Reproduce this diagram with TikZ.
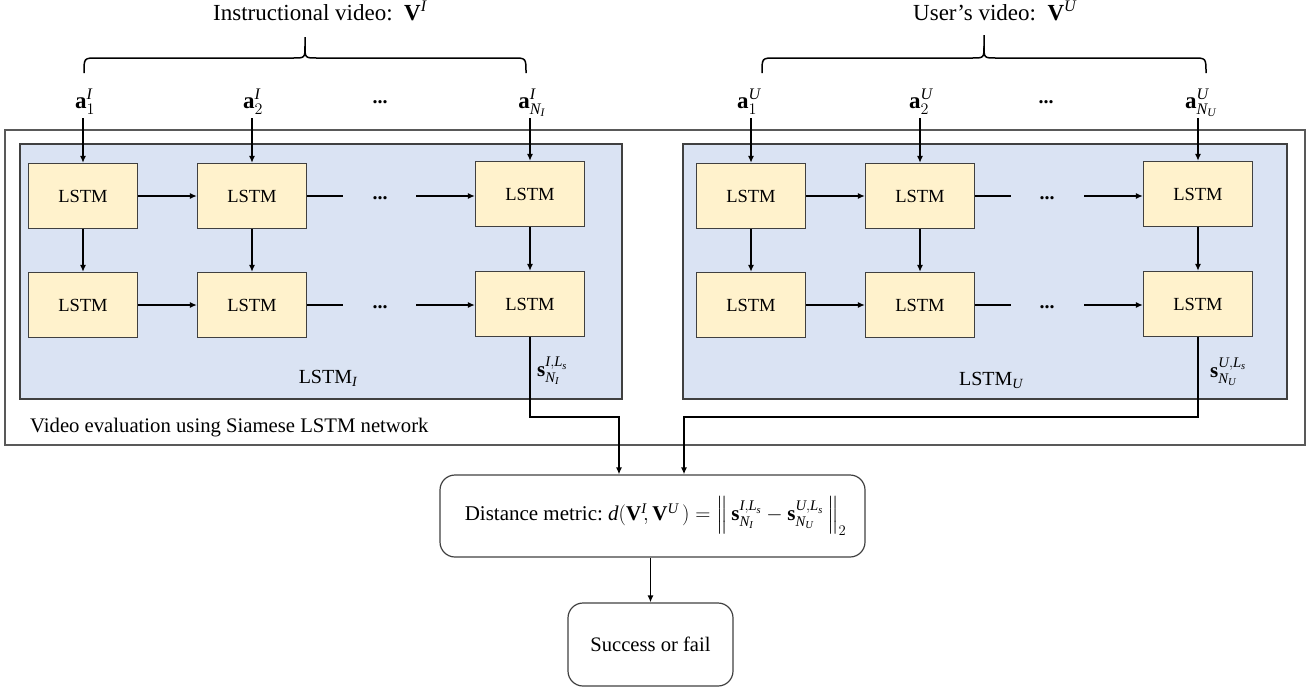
\RequirePackage{fix-cm}
\documentclass[tikz,border=0pt]{standalone}
\usepackage{amsmath}
\usepackage{fontspec}
\setmainfont{Liberation Serif}
\usetikzlibrary{arrows.meta,calc}
\definecolor{panelfill}{HTML}{DAE3F3}
\definecolor{lstmfill}{HTML}{FFF2CC}
\definecolor{edgegray}{HTML}{404040}
\definecolor{outergray}{HTML}{595959}
\newcommand\mi[1]{\mathit{#1}}
\newcommand\fsz[1]{\fontsize{#1}{#1}\selectfont}
\tikzset{
  lstm/.style={draw=edgegray, fill=lstmfill, line width=1.2pt, minimum width=109pt, minimum height=65pt, inner sep=0pt, font=\fsz{18.5}},
  panel/.style={draw=edgegray, fill=panelfill, line width=1.2pt},
  outerbox/.style={draw=outergray, line width=1.2pt},
  arr/.style={-{Latex[length=7pt,width=6pt]}, line width=1.4pt, black},
  plain/.style={line width=1.4pt, black},
  rbox/.style={draw=edgegray, line width=1.2pt, rounded corners=15pt, inner sep=0pt},
  alab/.style={anchor=base, inner sep=0pt, font=\fsz{23}},
  dots/.style={anchor=base, inner sep=0pt, font=\fsz{20}\bfseries},
  bracepath/.style={line width=1.5pt, black},
}
\begin{document}
\begin{tikzpicture}[x=1pt,y=-1pt]
\useasboundingbox (0,0) rectangle (1309,689);

% outer box and panels
\draw[outerbox] (5,130) rectangle (1305,445);
\draw[panel] (20,144) rectangle (622,399);
\draw[panel] (683,144) rectangle (1287,399);

% titles
\node[anchor=base west, inner sep=0pt, font=\fsz{23}] (tI) at (213,20) {Instructional video:\ \ $\mathbf{V}^{\mi{I}}$};
\node[anchor=base west, inner sep=0pt, font=\fsz{23}] (tU) at (913,20) {User's video:\ \ $\mathbf{V}^{\mi{U}}$};

% braces
\draw[bracepath] (84,73) .. controls (84,58) .. (97,58) -- (293,58) .. controls (305,58) .. (305,46) -- (305,37);
\draw[bracepath] (526,73) .. controls (526,58) .. (513,58) -- (317,58) .. controls (305,58) .. (305,46);
\draw[bracepath] (762,73) .. controls (762,58) .. (775,58) -- (972,58) .. controls (984,58) .. (984,46) -- (984,35);
\draw[bracepath] (1206,73) .. controls (1206,58) .. (1193,58) -- (996,58) .. controls (984,58) .. (984,46);

% input labels
\node[alab] (a1) at (85,108) {$\mathbf{a}_{1}^{\mi{I}}$};
\node[alab] (a2) at (253,108) {$\mathbf{a}_{2}^{\mi{I}}$};
\node[dots] (ad) at (380,103) {...};
\node[alab] (a3) at (532,108) {$\mathbf{a}^{\mi{I}}_{\mi{N}_{\mi{I}}}$};
\node[alab] (b1) at (749,108) {$\mathbf{a}_{1}^{\mi{U}}$};
\node[alab] (b2) at (921,108) {$\mathbf{a}_{2}^{\mi{U}}$};
\node[dots] (bd) at (1046,103) {...};
\node[alab] (b3) at (1201,108) {$\mathbf{a}^{\mi{U}}_{\mi{N}_{\mi{U}}}$};
\coordinate (inrow) at (0,118);

% LSTM boxes
\node[lstm] (L11) at (83,196) {LSTM};
\node[lstm] (L12) at (252,196) {LSTM};
\node[lstm] (L13) at (530,194) {LSTM};
\node[lstm] (L21) at (83,305) {LSTM};
\node[lstm] (L22) at (252,305) {LSTM};
\node[lstm] (L23) at (530,304) {LSTM};
\node[lstm] (R11) at (751,196) {LSTM};
\node[lstm] (R12) at (920,196) {LSTM};
\node[lstm] (R13) at (1198,194) {LSTM};
\node[lstm] (R21) at (751,305) {LSTM};
\node[lstm] (R22) at (920,305) {LSTM};
\node[lstm] (R23) at (1198,304) {LSTM};

% input arrows
\foreach \b in {L11,L12,L13,R11,R12,R13}{
  \draw[arr] (\b.north |- inrow) -- (\b.north);
}
% vertical arrows
\foreach \t/\b in {L11/L21,L12/L22,L13/L23,R11/R21,R12/R22,R13/R23}{
  \draw[arr] (\t) -- (\b);
}
% horizontal arrows
\draw[arr] (L11) -- (L12);
\draw[arr] (L21) -- (L22);
\draw[arr] (R11) -- (R12);
\draw[arr] (R21) -- (R22);

% dotted chains
\coordinate (eL1) at (343,196); \coordinate (sL1) at (416,196);
\coordinate (eL2) at (343,305); \coordinate (sL2) at (416,305);
\coordinate (eR1) at (1011,196); \coordinate (sR1) at (1084,196);
\coordinate (eR2) at (1011,305); \coordinate (sR2) at (1084,305);
\draw[plain] (L12.east) -- (eL1);
\draw[arr] (sL1) -- (sL1 -| L13.west);
\draw[plain] (L22.east) -- (eL2);
\draw[arr] (sL2) -- (sL2 -| L23.west);
\draw[plain] (R12.east) -- (eR1);
\draw[arr] (sR1) -- (sR1 -| R13.west);
\draw[plain] (R22.east) -- (eR2);
\draw[arr] (sR2) -- (sR2 -| R23.west);
\node[dots] (dL1) at (380,199) {...};
\node[dots] (dL2) at (380,308) {...};
\node[dots] (dR1) at (1047,199) {...};
\node[dots] (dR2) at (1047,308) {...};

% panel labels
\node[inner sep=0pt, font=\fsz{20}] (lI) at (328,378) {LSTM$_{\mi{I}}$};
\node[inner sep=0pt, font=\fsz{20}] (lU) at (991,380) {LSTM$_{\mi{U}}$};
\node[anchor=west, inner sep=0pt, font=\fsz{21}] (sI) at (537,371) {$\mathbf{s}^{\mi{I},\mi{L}_{\mi{s}}}_{\mi{N}_{\mi{I}}}$};
\node[anchor=west, inner sep=0pt, font=\fsz{21}] (sU) at (1210,372) {$\mathbf{s}^{\mi{U},\mi{L}_{\mi{s}}}_{\mi{N}_{\mi{U}}}$};

\node[anchor=west, inner sep=0pt, font=\fsz{20.7}] (cap) at (30,428) {Video evaluation using Siamese LSTM network};

% distance and result boxes
\node[rbox, minimum width=425pt, minimum height=82pt, font=\fsz{21}] (D) at (652.5,516)
  {\hspace{6pt}Distance metric:\ $\mi{d}(\mathbf{V}^{\mi{I}}\!,\mathbf{V}^{\mi{U}}\,)=\left\|\,\mathbf{s}^{\mi{I},\mi{L}_{\mi{s}}}_{\mi{N}_{\mi{I}}}-\mathbf{s}^{\mi{U},\mi{L}_{\mi{s}}}_{\mi{N}_{\mi{U}}}\,\right\|_{2}$};
\node[rbox, minimum width=165pt, minimum height=83pt, font=\fsz{20.6}] (S) at (650.5,644.5) {Success or fail};

% output connectors
\coordinate (jL) at (619,417);
\coordinate (jR) at (684,417);
\draw[arr] (L23.south) |- (jL) -- (jL |- D.north);
\draw[arr] (R23.south) |- (jR) -- (jR |- D.north);
\draw[arr] (D.south -| S.north) -- (S.north);
\end{tikzpicture}
\end{document}
